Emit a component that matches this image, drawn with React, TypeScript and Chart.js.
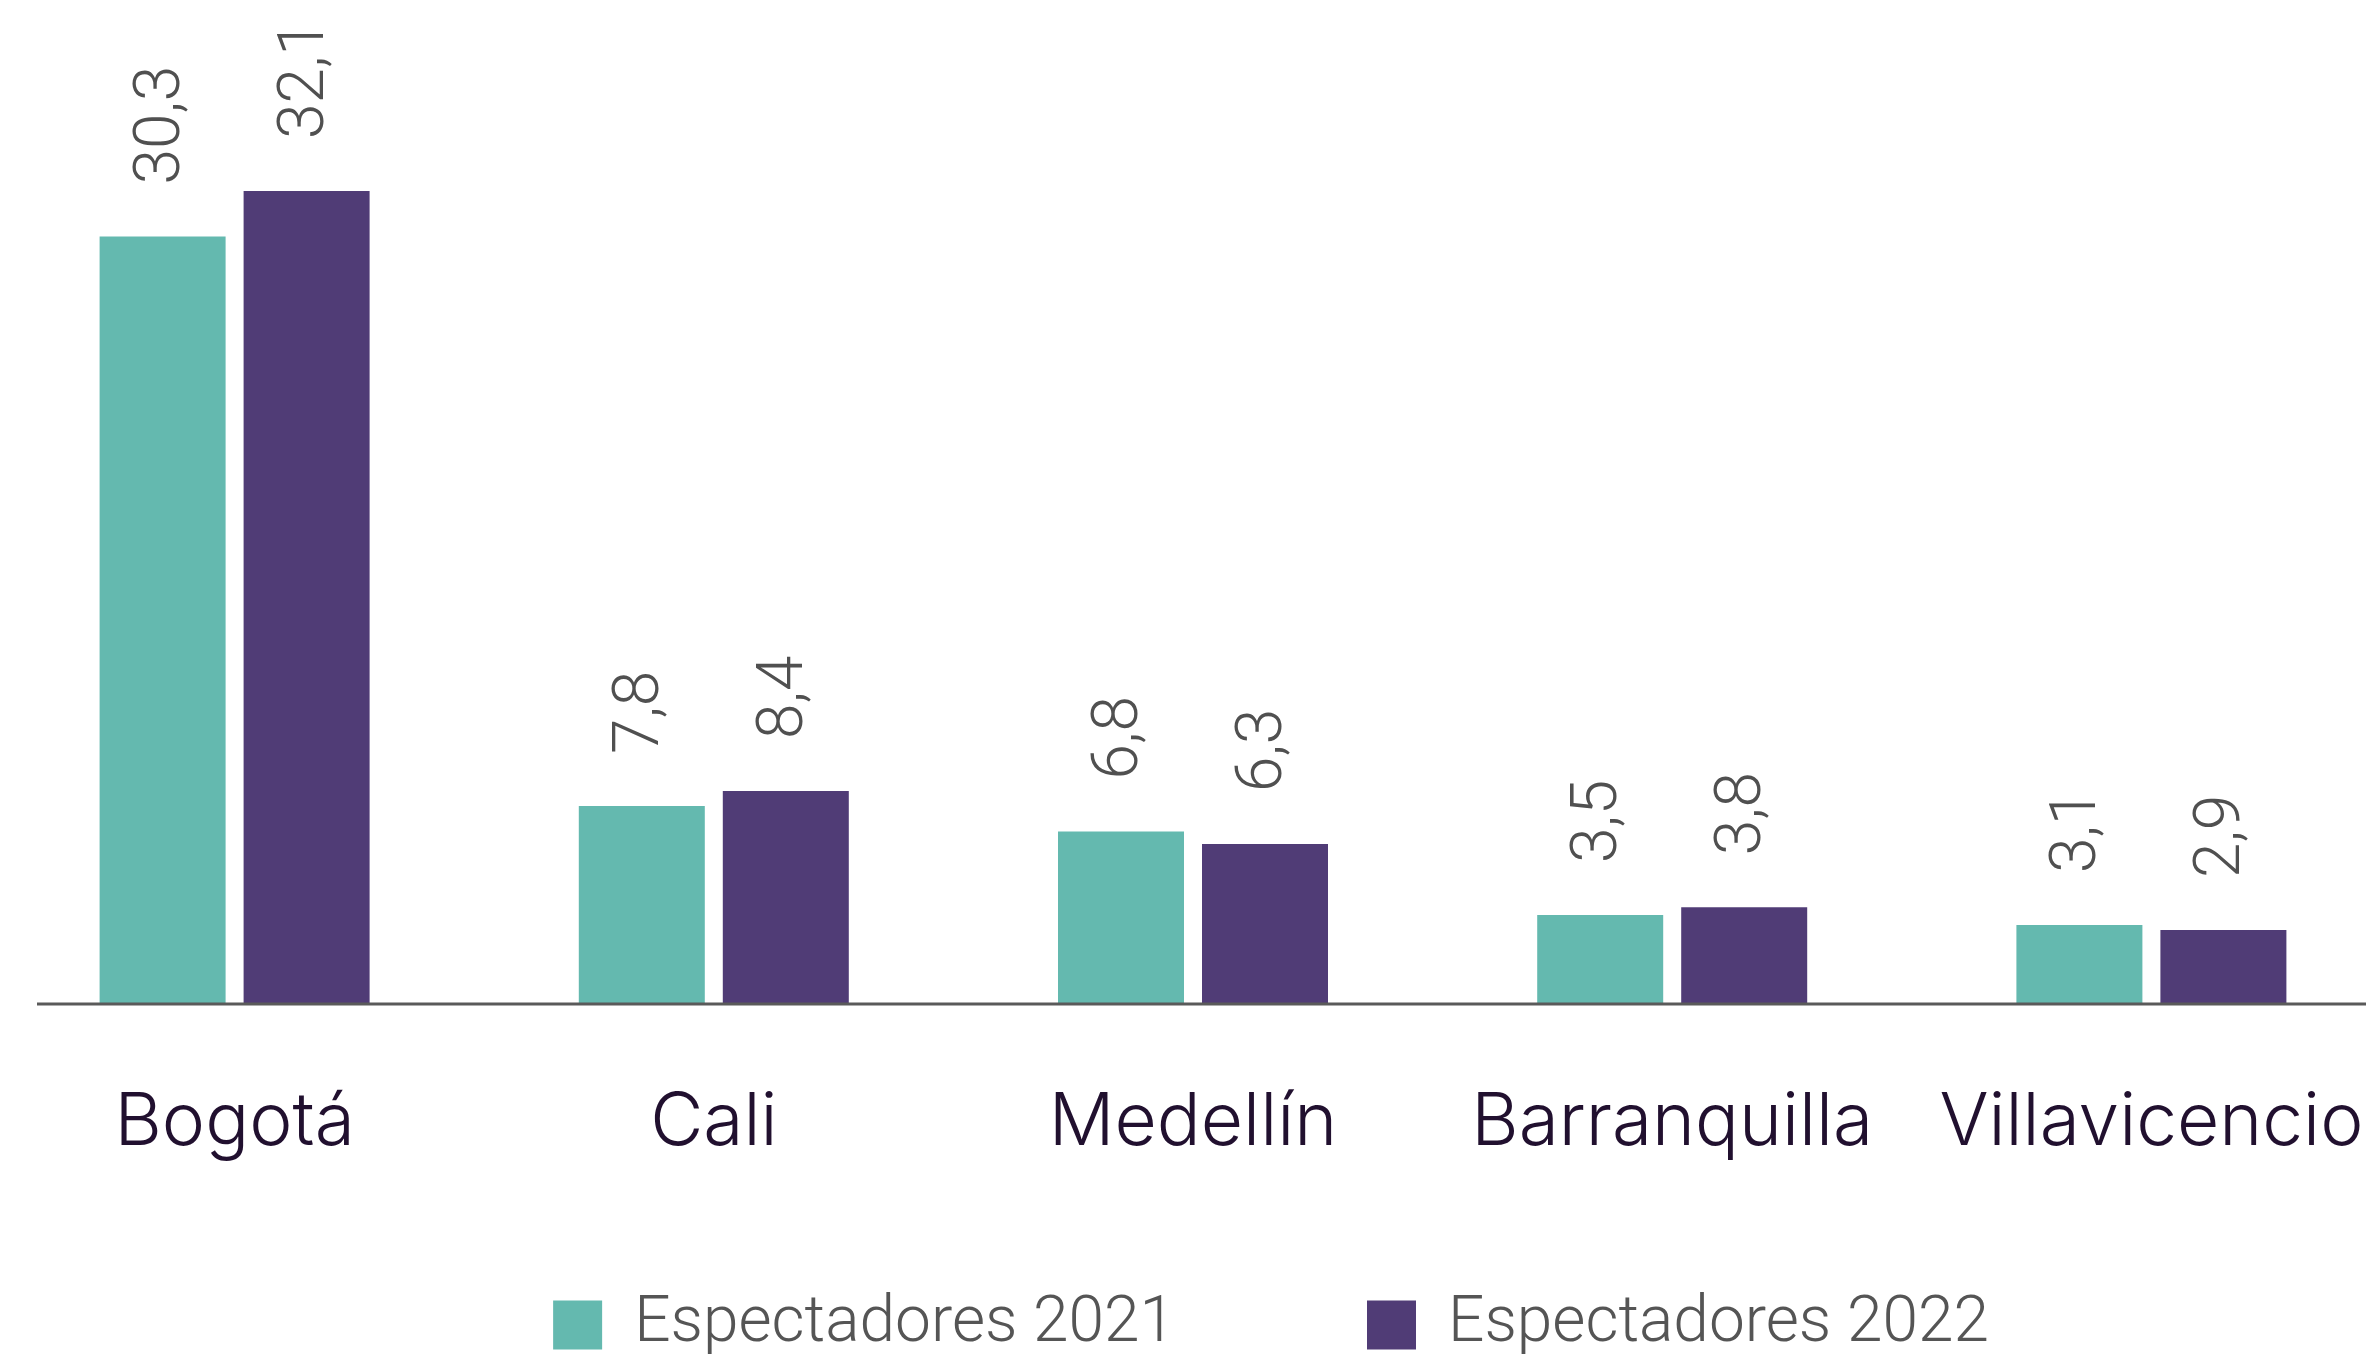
import React, { useEffect, useRef } from "react";
import { Chart, registerables } from "chart.js";

Chart.register(...registerables);

const categories = ["Bogotá", "Cali", "Medellín", "Barranquilla", "Villavicencio"];
const seriesNames = ["Espectadores 2021", "Espectadores 2022"];
const values2021 = [30.3, 7.8, 6.8, 3.5, 3.1];
const values2022 = [32.1, 8.4, 6.3, 3.8, 2.9];
const seriesColors = ["#64B9AF", "#503C76"];

const CANVAS_W = 2552;
const CANVAS_H = 1376;
const LEGEND_PAD = 192;

export default function App() {
  const ref = useRef<HTMLCanvasElement>(null);

  useEffect(() => {
    if (!ref.current) return;

    const valueLabels = {
      id: "valueLabels",
      afterDatasetsDraw(chart: any) {
        const ctx = chart.ctx;
        ctx.save();
        // baseline axis line
        const y0 = chart.scales.y.getPixelForValue(0);
        ctx.strokeStyle = "#5a5a5a";
        ctx.lineWidth = 3;
        ctx.beginPath();
        ctx.moveTo(chart.chartArea.left + 42, y0 + 0.5);
        ctx.lineTo(chart.width, y0 + 0.5);
        ctx.stroke();

        ctx.font = "300 64px Roboto";
        ctx.fillStyle = "#505050";
        ctx.textAlign = "left";
        ctx.textBaseline = "middle";
        chart.data.datasets.forEach((ds: any, di: number) => {
          const meta = chart.getDatasetMeta(di);
          meta.data.forEach((el: any, i: number) => {
            const v = ds.data[i] as number;
            const text = v.toFixed(1).replace(".", ",");
            ctx.save();
            ctx.translate(el.x, el.y - 52);
            ctx.rotate(-Math.PI / 2);
            ctx.fillText(text, 0, 0);
            ctx.restore();
          });
        });
        ctx.restore();
      },
    };

    const chart = new Chart(ref.current, {
      type: "bar",
      data: {
        labels: categories,
        datasets: [
          {
            label: seriesNames[0],
            data: values2021,
            backgroundColor: seriesColors[0],
            borderWidth: 0,
            categoryPercentage: 0.601,
            barPercentage: 0.875,
          },
          {
            label: seriesNames[1],
            data: values2022,
            backgroundColor: seriesColors[1],
            borderWidth: 0,
            categoryPercentage: 0.601,
            barPercentage: 0.875,
          },
        ],
      },
      options: {
        responsive: false,
        animation: false,
        devicePixelRatio: 1,
        layout: { padding: 0 },
        plugins: {
          legend: {
            position: "bottom",
            labels: {
              boxWidth: 49,
              boxHeight: 49,
              padding: LEGEND_PAD,
              color: "#555555",
              font: { family: "Roboto", size: 64, weight: "300" },
            },
          },
          tooltip: { enabled: false },
        },
        scales: {
          x: {
            grid: { display: false, drawTicks: false },
            border: { display: false },
            ticks: {
              autoSkip: false,
              maxRotation: 0,
              minRotation: 0,
              mirror: true,
              padding: -163,
              color: "#21102F",
              font: { family: "Inter", size: 73, weight: "300" },
            },
            afterFit: (s: any) => {
              s.height = 97.5;
            },
          },
          y: {
            position: "right",
            min: 0,
            max: 40,
            grid: { display: false, drawTicks: false },
            border: { display: false },
            ticks: { display: false },
            afterFit: (s: any) => {
              s.width = 156;
            },
          },
        },
      } as any,
      plugins: [valueLabels],
    });

    return () => chart.destroy();
  }, []);

  return (
    <div
      style={{
        position: "fixed",
        left: 0,
        top: 0,
        width: 2366,
        height: 1355,
        overflow: "hidden",
        background: "#ffffff",
      }}
    >
      <canvas
        ref={ref}
        width={CANVAS_W}
        height={CANVAS_H}
        style={{
          position: "absolute",
          left: -5,
          top: -9,
          width: CANVAS_W,
          height: CANVAS_H,
        }}
      />
    </div>
  );
}
